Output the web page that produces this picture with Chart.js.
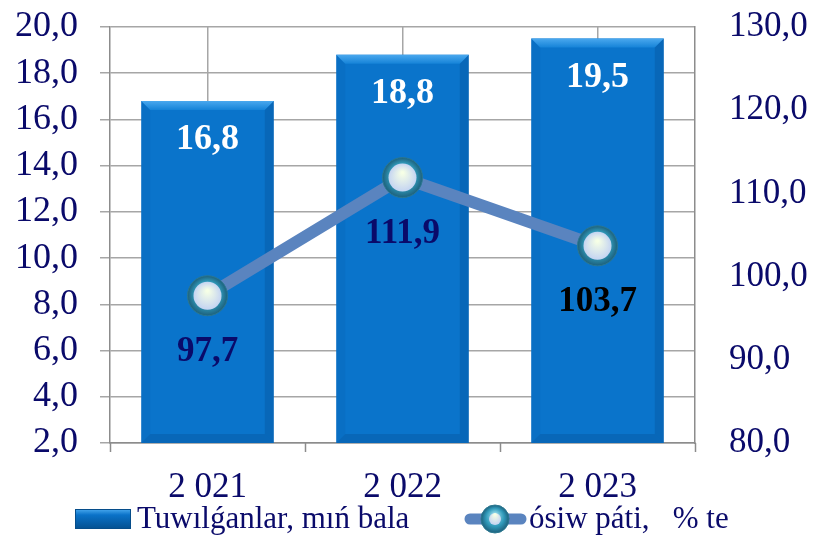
<!DOCTYPE html>
<html><head><meta charset="utf-8">
<script src="https://cdn.jsdelivr.net/npm/chart.js@4/dist/chart.umd.min.js"></script>
<style>html,body{margin:0;padding:0;background:#fff}#wrap{width:816px;height:538px}</style>
</head><body><div id="wrap"><canvas id="c" width="816" height="538"></canvas></div>
<script>
const categories = ['2 021', '2 022', '2 023'];
const births = [16.8, 18.8, 19.5];
const growth = [97.7, 111.9, 103.7];
const barLabel = 'Tuwılǵanlar, mıń bala';
const lineLabel = 'ósiw páti,   % te';

const fmt = v => v.toFixed(1).replace('.', ',');
const NAVY = '#0a0a6a';
const FONT = '"Liberation Serif", "Times New Roman", serif';

function drawMarker(ctx, x, y, R, r){
  ctx.save();
  const rg = ctx.createRadialGradient(x, y - 4, 2, x, y, R);
  rg.addColorStop(0, '#8fd8e8'); rg.addColorStop(0.6, '#2f98b8'); rg.addColorStop(1, '#1d607c');
  ctx.fillStyle = rg; ctx.beginPath(); ctx.arc(x, y, R, 0, Math.PI*2); ctx.fill();
  ctx.strokeStyle = '#2b7890'; ctx.lineWidth = 1; ctx.stroke();
  const ig = ctx.createRadialGradient(x, y - 5, 1, x, y, r);
  ig.addColorStop(0, '#f6ffe6'); ig.addColorStop(1, '#c4d4f2');
  ctx.fillStyle = ig; ctx.beginPath(); ctx.arc(x, y, r, 0, Math.PI*2); ctx.fill();
  ctx.restore();
}

function bevel(ctx, l, t, r, b){
  const d = 9;
  ctx.save();
  const gt = ctx.createLinearGradient(0, t, 0, t + d);
  gt.addColorStop(0, '#4aa8ee'); gt.addColorStop(1, '#1583d8');
  ctx.fillStyle = gt;
  ctx.beginPath(); ctx.moveTo(l, t); ctx.lineTo(r, t); ctx.lineTo(r - d, t + d); ctx.lineTo(l + d, t + d); ctx.closePath(); ctx.fill();
  ctx.fillStyle = 'rgba(0,60,120,0.07)';
  ctx.beginPath(); ctx.moveTo(l, t); ctx.lineTo(l + d, t + d); ctx.lineTo(l + d, b - d); ctx.lineTo(l, b); ctx.closePath(); ctx.fill();
  ctx.fillStyle = 'rgba(0,40,90,0.16)';
  ctx.beginPath(); ctx.moveTo(r, t); ctx.lineTo(r - d, t + d); ctx.lineTo(r - d, b - d); ctx.lineTo(r, b); ctx.closePath(); ctx.fill();
  ctx.fillStyle = 'rgba(0,40,90,0.16)';
  ctx.beginPath(); ctx.moveTo(l, b); ctx.lineTo(r, b); ctx.lineTo(r - d, b - d); ctx.lineTo(l + d, b - d); ctx.closePath(); ctx.fill();
  ctx.restore();
}

const extras = {
  id: 'extras',
  afterDatasetDraw(chart, args){
    if (args.index !== 0) return;
    const ctx = chart.ctx;
    const bottom = chart.chartArea.bottom;
    chart.getDatasetMeta(0).data.forEach(el => {
      bevel(ctx, el.x - el.width/2, el.y, el.x + el.width/2, Math.min(el.base, bottom));
    });
  },
  afterDatasetsDraw(chart){
    const ctx = chart.ctx;
    chart.getDatasetMeta(1).data.forEach(el => drawMarker(ctx, el.x, el.y, 20, 14));
  },
  afterDraw(chart){
    const ctx = chart.ctx;
    const x = chart.scales.x, y = chart.scales.y;
    ctx.save();
    ctx.strokeStyle = '#8c8c8c'; ctx.lineWidth = 1.5;
    const n = categories.length;
    for (let i = 0; i <= n; i++){
      const px = Math.round(x.left + (x.right - x.left) * i / n) + 0.5;
      ctx.beginPath(); ctx.moveTo(px, y.bottom); ctx.lineTo(px, y.bottom + 9); ctx.stroke();
    }
    ctx.restore();
    ctx.save();
    ctx.font = 'bold 36px ' + FONT;
    ctx.textAlign = 'center'; ctx.textBaseline = 'alphabetic';
    ctx.fillStyle = '#ffffff';
    chart.getDatasetMeta(0).data.forEach((el, i) => {
      ctx.fillText(fmt(births[i]), el.x, el.y + 48);
    });
    ctx.font = 'bold 35px ' + FONT;
    chart.getDatasetMeta(1).data.forEach((el, i) => {
      ctx.fillStyle = i === 2 ? '#000000' : NAVY;
      ctx.fillText(fmt(growth[i]), el.x, el.y + 65);
    });
    ctx.restore();
    ctx.save();
    const ly = 519;
    const bg = ctx.createLinearGradient(0, ly - 10, 0, ly + 10);
    bg.addColorStop(0, '#4aaaf0'); bg.addColorStop(0.3, '#0a72c8'); bg.addColorStop(1, '#05508f');
    ctx.fillStyle = bg; ctx.fillRect(75, ly - 10, 56, 20);
    ctx.strokeStyle = '#064d8a'; ctx.lineWidth = 1; ctx.strokeRect(75.5, ly - 9.5, 55, 19);
    ctx.strokeStyle = '#5a84bf'; ctx.lineWidth = 11; ctx.lineCap = 'round';
    ctx.beginPath(); ctx.moveTo(470, ly); ctx.lineTo(521, ly); ctx.stroke();
    drawMarker(ctx, 495, ly, 14, 6);
    ctx.fillStyle = NAVY;
    ctx.font = '31px ' + FONT;
    ctx.textAlign = 'left'; ctx.textBaseline = 'middle';
    ctx.fillText(barLabel, 137, ly + 1);
    ctx.fillText(lineLabel, 529, ly + 1);
    ctx.restore();
  }
};

const noPadY = (w) => (s) => { s.width = w; s.paddingTop = 0; s.paddingBottom = 0; };

const ctx = document.getElementById('c').getContext('2d');
new Chart(ctx, {
  data: {
    labels: categories,
    datasets: [
      {
        type: 'bar', label: barLabel, data: births, yAxisID: 'y', order: 2,
        backgroundColor: '#0a74cb',
        borderWidth: 0,
        categoryPercentage: 0.68, barPercentage: 1
      },
      {
        type: 'line', label: lineLabel, data: growth, yAxisID: 'y1', order: 1,
        borderColor: '#5a84bf', borderWidth: 12, pointRadius: 0, pointHoverRadius: 0,
        tension: 0, fill: false, borderCapStyle: 'butt'
      }
    ]
  },
  options: {
    responsive: false, animation: false,
    layout: { padding: { top: 27, left: 0, right: 0, bottom: 0 } },
    plugins: { tooltip: { enabled: false }, legend: { display: false } },
    scales: {
      x: {
        offset: true,
        afterFit: s => { s.height = 95; s.paddingLeft = 0; s.paddingRight = 0; },
        grid: { offset: false, color: '#a6a6a6', lineWidth: 1.5, drawTicks: false },
        border: { color: '#8c8c8c', width: 1.5 },
        ticks: { color: NAVY, font: { family: FONT, size: 35 }, padding: 24 }
      },
      y: {
        position: 'left', min: 2, max: 20,
        afterFit: noPadY(110),
        ticks: { stepSize: 2, autoSkip: false, color: NAVY, font: { family: FONT, size: 36 }, padding: 22, callback: v => fmt(v) },
        grid: { color: '#a6a6a6', lineWidth: 1.5, tickLength: 10 },
        border: { color: '#8c8c8c', width: 1.5 }
      },
      y1: {
        position: 'right', min: 80, max: 130,
        afterFit: noPadY(121),
        ticks: { stepSize: 10, autoSkip: false, color: NAVY, font: { family: FONT, size: 35 }, padding: 34, callback: v => fmt(v) },
        grid: { drawOnChartArea: false, drawTicks: false },
        border: { color: '#8c8c8c', width: 1.5 }
      }
    }
  },
  plugins: [extras]
});
</script>
</body></html>
